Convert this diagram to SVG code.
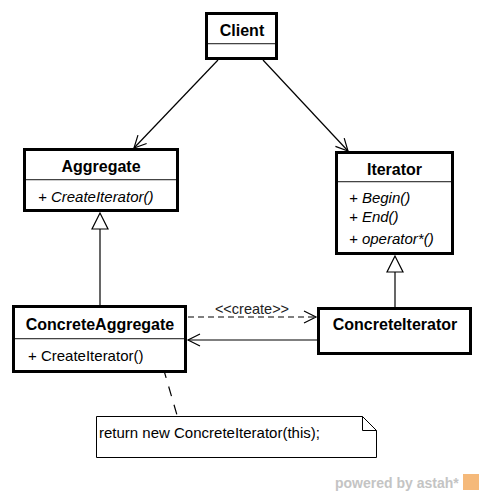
<svg xmlns="http://www.w3.org/2000/svg" width="485" height="496" viewBox="0 0 485 496">
<defs>
<style>
.box{fill:#fff;stroke:#000;stroke-width:3}
.sep{stroke:#444;stroke-width:1}
.sep2{stroke:#ccc;stroke-width:1}
.name{font-family:"Liberation Sans",Arial,sans-serif;font-size:16px;font-weight:bold;text-anchor:middle;fill:#000}
.op{font-family:"Liberation Sans",Arial,sans-serif;font-size:15px;fill:#000}
.it{font-style:italic}
.ln{stroke:#000;stroke-width:1.2;fill:none}
.dash{stroke-dasharray:6,4}
.tri{fill:#fff;stroke:#000;stroke-width:1.2}
</style>
<marker id="open" markerWidth="16" markerHeight="16" refX="13" refY="7" orient="auto" markerUnits="userSpaceOnUse">
<path d="M1,1 L13,7 L1,13" fill="none" stroke="#000" stroke-width="1.2"/>
</marker>
</defs>
<g id="connectors">
<line class="ln" x1="218" y1="60" x2="134" y2="148" marker-end="url(#open)"/>
<line class="ln" x1="263" y1="60" x2="348" y2="151" marker-end="url(#open)"/>
<line class="ln" x1="100" y1="305" x2="100" y2="229"/>
<polygon class="tri" points="100,213 92,229 108,229"/>
<line class="ln" x1="395" y1="307" x2="395" y2="272"/>
<polygon class="tri" points="395,256 387,272 403,272"/>
<line class="ln dash" x1="188" y1="317" x2="316" y2="317" marker-end="url(#open)"/>
<text x="252" y="314" font-family="'Liberation Sans',Arial,sans-serif" font-size="14.5" text-anchor="middle" fill="#222">&lt;&lt;create&gt;&gt;</text>
<line class="ln" x1="317" y1="340" x2="188" y2="340" marker-end="url(#open)"/>
<line class="ln" x1="158" y1="350" x2="177" y2="415" stroke-dasharray="10,9"/>
</g>
<g id="Client">
<rect class="box" x="206.5" y="13.5" width="70" height="45"/>
<text class="name" x="242" y="36">Client</text>
<line class="sep" x1="208" y1="43.5" x2="275" y2="43.5"/>
<line class="sep2" x1="208" y1="44.5" x2="275" y2="44.5"/>
</g>
<g id="Aggregate">
<rect class="box" x="24.5" y="149.5" width="153" height="61"/>
<text class="name" x="101" y="172">Aggregate</text>
<line class="sep" x1="26" y1="179.5" x2="176" y2="179.5"/>
<line class="sep2" x1="26" y1="180.5" x2="176" y2="180.5"/>
<text class="op it" x="38" y="202">+ CreateIterator()</text>
</g>
<g id="Iterator">
<rect class="box" x="336.5" y="152.5" width="116" height="101"/>
<text class="name" x="394.5" y="175">Iterator</text>
<line class="sep" x1="338" y1="181.5" x2="451" y2="181.5"/>
<line class="sep2" x1="338" y1="182.5" x2="451" y2="182.5"/>
<text class="op it" x="349" y="203">+ Begin()</text>
<text class="op it" x="349" y="222">+ End()</text>
<text class="op it" x="349" y="244">+ operator*()</text>
</g>
<g id="ConcreteAggregate">
<rect class="box" x="13.5" y="306.5" width="172" height="65"/>
<text class="name" x="100" y="330">ConcreteAggregate</text>
<line class="sep" x1="15" y1="338.5" x2="184" y2="338.5"/>
<line class="sep2" x1="15" y1="339.5" x2="184" y2="339.5"/>
<text class="op" x="28" y="361">+ CreateIterator()</text>
</g>
<g id="ConcreteIterator">
<rect class="box" x="318.5" y="308.5" width="152" height="45"/>
<text class="name" x="395" y="330">ConcreteIterator</text>
</g>
<g id="Note">
<path d="M96.5,416.5 H362.5 L376.5,430.5 V457.5 H96.5 Z" fill="#fff" stroke="#000" stroke-width="1"/>
<path d="M362.5,416.5 V430.5 H376.5" fill="none" stroke="#000" stroke-width="1"/>
<text class="op" x="99" y="438">return new ConcreteIterator(this);</text>
</g>
<g id="watermark">
<text x="335" y="488" font-family="'Liberation Sans',Arial,sans-serif" font-size="14" font-weight="bold" fill="#c4c4c4">powered by astah*</text>
<rect x="463" y="474" width="16" height="16" fill="#f5b97a"/>
</g>
</svg>
